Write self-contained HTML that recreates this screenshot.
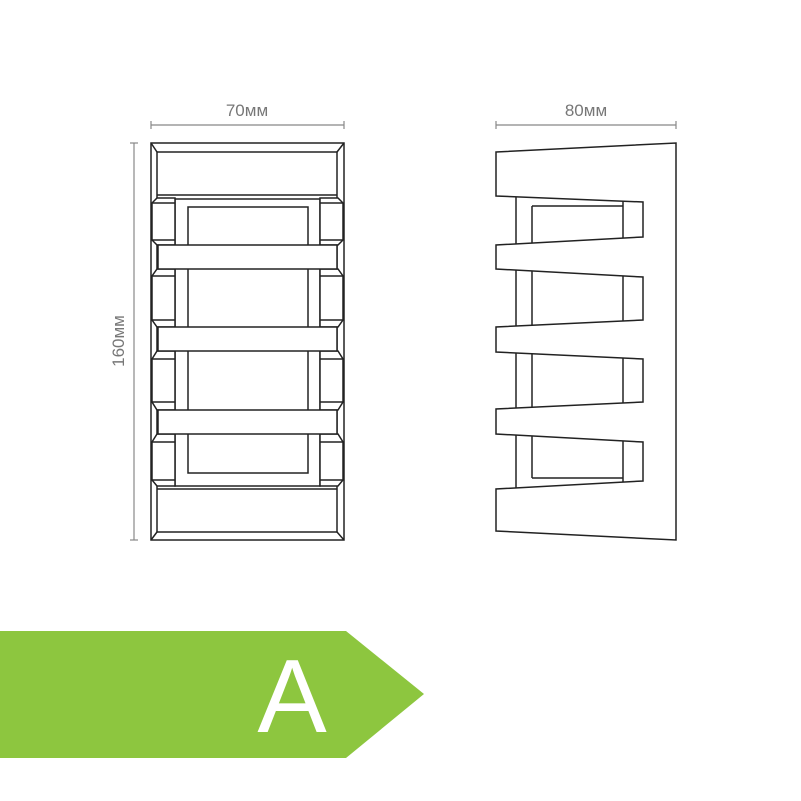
<!DOCTYPE html>
<html><head><meta charset="utf-8"><style>html,body{margin:0;padding:0;background:#fff}svg{display:block}</style></head>
<body>
<svg width="801" height="801" viewBox="0 0 801 801" xmlns="http://www.w3.org/2000/svg">
<g font-family="Liberation Sans, sans-serif" fill="#777" font-size="17">
<text x="247" y="116" text-anchor="middle">70мм</text>
<text x="586" y="116" text-anchor="middle">80мм</text>
<text transform="translate(124,341) rotate(-90)" text-anchor="middle">160мм</text>
</g>
<g stroke="#888" stroke-width="1.2" fill="none">
<line x1="151" y1="125" x2="344" y2="125"/><line x1="151" y1="121" x2="151" y2="129"/><line x1="344" y1="121" x2="344" y2="129"/>
<line x1="496" y1="125" x2="676" y2="125"/><line x1="496" y1="121" x2="496" y2="129"/><line x1="676" y1="121" x2="676" y2="129"/>
<line x1="134" y1="143" x2="134" y2="540"/><line x1="130" y1="143" x2="138" y2="143"/><line x1="130" y1="540" x2="138" y2="540"/>
</g>
<!-- front view -->
<g stroke="#222" stroke-width="1.5" fill="#fff">
<rect x="151" y="143" width="193" height="397"/>
<rect x="157" y="152" width="180" height="380"/>
<line x1="151" y1="143" x2="157" y2="152"/><line x1="344" y1="143" x2="337" y2="152"/>
<line x1="151" y1="540" x2="157" y2="532"/><line x1="344" y1="540" x2="337" y2="532"/>
<line x1="157" y1="195" x2="337" y2="195"/>
<line x1="157" y1="489" x2="337" y2="489"/>
<rect x="175" y="199" width="145" height="287"/>
<rect x="188" y="207" width="120" height="266"/>
<polygon points="157,198 175,198 175,245 157,245 152,240 152,203"/>
<polygon points="157,269 175,269 175,327 157,327 152,320 152,276"/>
<polygon points="157,351 175,351 175,410 157,410 152,402 152,359"/>
<polygon points="157,434 175,434 175,486 157,486 152,480 152,442"/>
<polygon points="338,198 320,198 320,245 338,245 343,240 343,203"/>
<polygon points="338,269 320,269 320,327 338,327 343,320 343,276"/>
<polygon points="338,351 320,351 320,410 338,410 343,402 343,359"/>
<polygon points="338,434 320,434 320,486 338,486 343,480 343,442"/>
<g fill="none">
<path d="M152,203H175M152,240H175M152,276H175M152,320H175M152,359H175M152,402H175M152,442H175M152,480H175"/>
<path d="M320,203H343M320,240H343M320,276H343M320,320H343M320,359H343M320,402H343M320,442H343M320,480H343"/>
</g>
<rect x="158" y="245" width="179" height="24"/>
<rect x="158" y="327" width="179" height="24"/>
<rect x="158" y="410" width="179" height="24"/>
</g>
<!-- side view -->
<g stroke="#222" stroke-width="1.5" fill="#fff">
<path d="M496,152 L676,143 L676,540 L496,531 L496,489 L643,481 L643,442 L496,434 L496,409 L643,402 L643,359 L496,352 L496,327 L643,320 L643,277 L496,269 L496,245 L643,237 L643,202 L496,196 Z"/>
<g fill="none">
<line x1="516" y1="197" x2="516" y2="244"/><line x1="532" y1="206" x2="532" y2="243"/><line x1="623" y1="201" x2="623" y2="238"/>
<line x1="532" y1="206" x2="623" y2="206"/>
<line x1="516" y1="270" x2="516" y2="326"/><line x1="532" y1="271" x2="532" y2="325"/><line x1="623" y1="276" x2="623" y2="321"/>
<line x1="516" y1="353" x2="516" y2="408"/><line x1="532" y1="354" x2="532" y2="407"/><line x1="623" y1="358" x2="623" y2="403"/>
<line x1="516" y1="435" x2="516" y2="488"/><line x1="532" y1="436" x2="532" y2="478"/><line x1="623" y1="441" x2="623" y2="482"/>
<line x1="532" y1="478" x2="623" y2="478"/>
</g>
</g>
<!-- banner -->
<polygon points="0,631 346,631 424,694 346,758 0,758" fill="#8dc63f"/>
<text x="292" y="732" text-anchor="middle" font-family="Liberation Sans, sans-serif" font-size="104" fill="#fff">A</text>
</svg>
</body></html>
